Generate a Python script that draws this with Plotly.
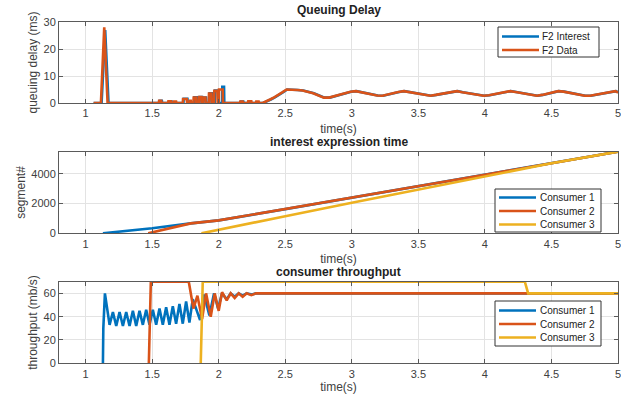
import plotly.graph_objects as go

# ---------------- data ----------------
tick_vals = [1, 1.5, 2, 2.5, 3, 3.5, 4, 4.5, 5]
tick_text = ["1", "1.5", "2", "2.5", "3", "3.5", "4", "4.5", "5"]

# Queuing delay (ms) - F2 Data
qd_data_t = [1.06, 1.115, 1.14, 1.165, 1.55, 1.552, 1.568, 1.570, 1.62, 1.622, 1.64, 1.642,
             1.66, 1.662, 1.68, 1.682, 1.73, 1.732, 1.76, 1.762, 1.78, 1.782, 1.79, 1.792,
             1.81, 1.812, 1.83, 1.832, 1.85, 1.852, 1.87, 1.872, 1.88, 1.882, 1.90, 1.902,
             1.925, 1.927, 1.945, 1.947, 1.965, 1.967, 1.99, 1.992, 2.0, 2.002, 2.03, 2.032,
             2.16, 2.162, 2.18, 2.182, 2.22, 2.222, 2.245, 2.247, 2.28, 2.282, 2.30, 2.302,
             2.33, 2.36, 2.39, 2.42, 2.45, 2.48, 2.51, 2.55, 2.59, 2.63, 2.67, 2.71, 2.75,
             2.79, 2.83, 2.87, 2.91, 2.95, 2.99, 3.03, 3.07, 3.11, 3.15, 3.19, 3.23, 3.27,
             3.31, 3.35, 3.39, 3.43, 3.47, 3.51, 3.55, 3.59, 3.63, 3.67, 3.71, 3.75, 3.79,
             3.83, 3.87, 3.91, 3.95, 3.99, 4.03, 4.07, 4.11, 4.15, 4.19, 4.23, 4.27, 4.31,
             4.35, 4.39, 4.43, 4.47, 4.51, 4.55, 4.59, 4.63, 4.67, 4.71, 4.75, 4.79, 4.83,
             4.87, 4.91, 4.95, 4.98, 5.0]
qd_data_v = [0, 0, 28, 0, 0, 0.8, 0.8, 0, 0, 0.6, 0.6, 0,
             0, 0.5, 0.5, 0, 0, 1.5, 1.5, 0, 0, 0.8, 0.8, 0,
             0, 2.0, 2.0, 0, 0, 2.2, 2.2, 0, 0, 2.0, 2.0, 0,
             0, 3.5, 3.5, 0, 0, 4.5, 4.5, 0, 0, 5.0, 5.0, 0,
             0, 0.5, 0.5, 0, 0, 0.6, 0.6, 0, 0, 0.5, 0.5, 0,
             0, 0.6, 1.4, 2.2, 3.0, 4.0, 5.0, 5.0, 4.8, 4.6, 4.2, 3.6, 2.8,
             2.0, 2.0, 2.6, 3.1, 3.6, 4.2, 4.4, 4.0, 3.6, 3.3, 2.8, 2.7, 3.2,
             3.6, 4.1, 4.4, 4.1, 3.7, 3.3, 3.0, 2.7, 3.0, 3.4, 3.8, 4.1, 4.4,
             4.0, 3.7, 3.4, 3.0, 2.7, 2.9, 3.3, 3.7, 4.1, 4.4, 4.1, 3.7, 3.4,
             2.9, 2.7, 3.0, 3.4, 3.8, 4.4, 4.2, 3.8, 3.5, 3.1, 2.7, 2.7, 3.1,
             3.4, 3.7, 4.3, 4.4, 3.9]

# Queuing delay (ms) - F2 Interest
qd_int_t = [1.06, 1.12, 1.147, 1.172, 1.555, 1.557, 1.573, 1.575, 1.625, 1.627, 1.645, 1.647,
            1.735, 1.737, 1.765, 1.767, 1.815, 1.817, 1.835, 1.837, 1.855, 1.857, 1.875, 1.877,
            1.885, 1.887, 1.905, 1.907, 1.93, 1.932, 1.95, 1.952, 1.97, 1.972, 1.995, 1.997,
            2.025, 2.027, 2.04, 2.042, 2.165, 2.167, 2.185, 2.187, 2.335, 2.365, 2.395, 2.425,
            2.455, 2.485, 2.515, 2.555, 2.595, 2.635, 2.675, 2.715, 2.755, 2.795, 2.835, 2.875,
            2.915, 2.955, 2.995, 3.035, 3.075, 3.115, 3.155, 3.195, 3.235, 3.275, 3.315, 3.355,
            3.395, 3.435, 3.475, 3.515, 3.555, 3.595, 3.635, 3.675, 3.715, 3.755, 3.795, 3.835,
            3.875, 3.915, 3.955, 3.995, 4.035, 4.075, 4.115, 4.155, 4.195, 4.235, 4.275, 4.315,
            4.355, 4.395, 4.435, 4.475, 4.515, 4.555, 4.595, 4.635, 4.675, 4.715, 4.755, 4.795,
            4.835, 4.875, 4.915, 4.955, 4.985, 5.0]
qd_int_v = [0, 0, 27, 0, 0, 0.8, 0.8, 0, 0, 0.6, 0.6, 0,
            0, 1.6, 1.6, 0, 0, 2.1, 2.1, 0, 0, 2.2, 2.2, 0,
            0, 2.0, 2.0, 0, 0, 3.6, 3.6, 0, 0, 4.6, 4.6, 0,
            0, 6.0, 6.0, 0, 0, 0.5, 0.5, 0, 0, 0.6, 1.4, 2.2,
            3.0, 4.0, 5.0, 5.0, 4.8, 4.6, 4.2, 3.6, 2.8, 2.0, 2.0, 2.6,
            3.1, 3.6, 4.2, 4.4, 4.0, 3.6, 3.3, 2.8, 2.7, 3.2, 3.6, 4.1,
            4.4, 4.1, 3.7, 3.3, 3.0, 2.7, 3.0, 3.4, 3.8, 4.1, 4.4, 4.0,
            3.7, 3.4, 3.0, 2.7, 2.9, 3.3, 3.7, 4.1, 4.4, 4.1, 3.7, 3.4,
            2.9, 2.7, 3.0, 3.4, 3.8, 4.4, 4.2, 3.8, 3.5, 3.1, 2.7, 2.7,
            3.1, 3.4, 3.7, 4.3, 4.4, 4.0]

# Interest expression time (segment #)
seg_c1_t = [1.13, 1.5, 1.79, 2.0, 2.5, 3.0, 3.5, 4.0, 4.5, 5.0]
seg_c1_v = [0, 340, 670, 870, 1630, 2400, 3150, 3950, 4720, 5500]
seg_c2_t = [1.47, 1.79, 2.0, 2.5, 3.0, 3.5, 4.0, 4.5, 5.0]
seg_c2_v = [0, 670, 870, 1630, 2400, 3150, 3950, 4720, 5500]
seg_c3_t = [1.87, 2.0, 2.5, 3.0, 3.5, 4.0, 4.3, 4.5, 5.0]
seg_c3_v = [0, 230, 1150, 2060, 2960, 3860, 4410, 4720, 5500]

# Consumer throughput (mb/s)
thr_c1_t = [1.13, 1.133, 1.145, 1.16, 1.18,
            1.205, 1.23, 1.255, 1.28, 1.305, 1.33, 1.355, 1.38, 1.405, 1.43, 1.455, 1.48,
            1.505, 1.53, 1.555, 1.58, 1.605, 1.63, 1.655, 1.68, 1.705, 1.73, 1.755, 1.78,
            1.805, 1.86, 1.89, 1.93, 1.965, 1.995, 2.025, 2.06, 2.09, 2.12, 2.15, 2.18,
            2.21, 2.25, 2.28, 5.0]
thr_c1_v = [0, 30, 60, 48, 33,
            44, 32, 44, 32, 44, 32, 45, 32, 45, 33, 46, 33,
            46, 33, 47, 33, 48, 33, 49, 34, 51, 34, 53, 35,
            55, 37, 59, 41, 60, 47, 60, 55, 60, 57, 60, 58,
            60, 59, 60, 60]
thr_c2_t = [1.475, 1.49, 1.775, 1.81, 1.84, 1.875, 1.905, 1.94, 1.97, 2.0, 2.025,
            2.06, 2.09, 2.12, 2.15, 2.18, 2.21, 2.245, 2.28, 5.0]
thr_c2_v = [0, 70, 70, 47, 58, 38, 60, 40, 60, 45, 61,
            54, 60, 56, 60, 57, 60, 58.5, 60, 60]
thr_c3_t = [1.865, 1.88, 4.3, 4.325, 5.0]
thr_c3_v = [0, 70, 70, 60, 60]

legend_top = ["F2 Interest", "F2 Data"]
legend_consumers = ["Consumer 1", "Consumer 2", "Consumer 3"]

# ---------------- figure ----------------
BLUE, ORANGE, YELLOW = "#0072BD", "#D95319", "#EDB120"
FONT = "Liberation Sans, Arial, sans-serif"
LW = 2.6
W, H = 621.0, 394.0
ML, MR = 59, 3
PW = W - ML - MR

fig = go.Figure()
fig.add_trace(go.Scatter(x=qd_int_t, y=qd_int_v, mode="lines", name=legend_top[0],
                         line=dict(color=BLUE, width=LW), xaxis="x", yaxis="y"))
fig.add_trace(go.Scatter(x=qd_data_t, y=qd_data_v, mode="lines", name=legend_top[1],
                         line=dict(color=ORANGE, width=LW), xaxis="x", yaxis="y"))

for t, v, nm, c in [(seg_c1_t, seg_c1_v, legend_consumers[0], BLUE),
                    (seg_c2_t, seg_c2_v, legend_consumers[1], ORANGE),
                    (seg_c3_t, seg_c3_v, legend_consumers[2], YELLOW)]:
    fig.add_trace(go.Scatter(x=t, y=v, mode="lines", name=nm, line=dict(color=c, width=LW),
                             xaxis="x2", yaxis="y2"))

for t, v, nm, c in [(thr_c1_t, thr_c1_v, legend_consumers[0], BLUE),
                    (thr_c2_t, thr_c2_v, legend_consumers[1], ORANGE),
                    (thr_c3_t, thr_c3_v, legend_consumers[2], YELLOW)]:
    fig.add_trace(go.Scatter(x=t, y=v, mode="lines", name=nm, line=dict(color=c, width=LW),
                             xaxis="x3", yaxis="y3"))

def dom(top_px, bot_px):
    return [1 - bot_px / H, 1 - top_px / H]

axis_common = dict(showline=True, linecolor="#5a5a5a", linewidth=1, mirror="ticks",
                   ticks="inside", ticklen=4, tickcolor="#5a5a5a", showgrid=True,
                   gridcolor="#e3e3e3", zeroline=False, automargin=False,
                   ticklabeloverflow="allow",
                   tickfont=dict(family=FONT, size=11, color="#404040"))

def xa(anchor):
    return dict(axis_common, domain=[0, 1], anchor=anchor, range=[0.8, 5],
                tickvals=tick_vals, ticktext=tick_text,
                title=dict(text="time(s)", font=dict(family=FONT, size=12, color="#404040"),
                           standoff=6))

def ya(anchor, d, rng, tv, label):
    return dict(axis_common, domain=d, anchor=anchor, range=rng, tickvals=tv,
                ticktext=[str(x) for x in tv],
                title=dict(text=label, font=dict(family=FONT, size=12, color="#404040"),
                           standoff=3))

d1, d2, d3 = dom(22, 103), dom(151.7, 233.3), dom(281.7, 363.3)

fig.update_layout(
    width=621, height=394, autosize=False,
    margin=dict(l=ML, r=MR, t=0, b=0, autoexpand=False),
    paper_bgcolor="white", plot_bgcolor="white",
    font=dict(family=FONT, color="#404040"),
    xaxis=xa("y"), yaxis=ya("x", d1, [0, 30], [0, 10, 20, 30], "queuing delay (ms)"),
    xaxis2=xa("y2"), yaxis2=ya("x2", d2, [0, 5500], [0, 2000, 4000], "segment#"),
    xaxis3=xa("y3"), yaxis3=ya("x3", d3, [0, 70], [0, 20, 40, 60], "throughput (mb/s)"),
    showlegend=False,
)

for txt, ypx in [("Queuing Delay", 10), ("interest expression time", 142),
                 ("consumer throughput", 272)]:
    fig.add_annotation(text="<b>" + txt + "</b>", xref="paper", yref="paper",
                       x=0.5, y=1 - ypx / H, xanchor="center", yanchor="middle",
                       showarrow=False, font=dict(family=FONT, size=12, color="#222222"))

# ---- legend boxes (MATLAB style, compact) ----
def px_x(p):
    return (p - ML) / PW

def px_y(p):
    return 1 - p / H

def legend_box(x0, x1, y0, y1, names, colors, ys, line_x0, line_x1, text_x):
    fig.add_shape(type="rect", xref="paper", yref="paper",
                  x0=px_x(x0), x1=px_x(x1), y0=px_y(y1), y1=px_y(y0),
                  line=dict(color="#333333", width=1), fillcolor="white", layer="above")
    for nm, c, yy in zip(names, colors, ys):
        fig.add_shape(type="line", xref="paper", yref="paper",
                      x0=px_x(line_x0), x1=px_x(line_x1), y0=px_y(yy), y1=px_y(yy),
                      line=dict(color=c, width=LW), layer="above")
        fig.add_annotation(text=nm, xref="paper", yref="paper", x=px_x(text_x), y=px_y(yy),
                           xanchor="left", yanchor="middle", showarrow=False,
                           font=dict(family=FONT, size=10, color="#222222"))

legend_box(498, 599, 27, 57, legend_top, [BLUE, ORANGE], [36.5, 50], 502, 539, 540)
legend_box(495, 601, 189, 232, legend_consumers, [BLUE, ORANGE, YELLOW],
           [197.5, 211, 224.5], 499, 536, 538)
legend_box(495, 601, 301, 346, legend_consumers, [BLUE, ORANGE, YELLOW],
           [310.5, 324, 337.5], 499, 536, 538)

fig.write_html("out.html", config={"displayModeBar": False},
               post_script="document.body.style.margin='0';document.body.style.overflow='hidden';")
